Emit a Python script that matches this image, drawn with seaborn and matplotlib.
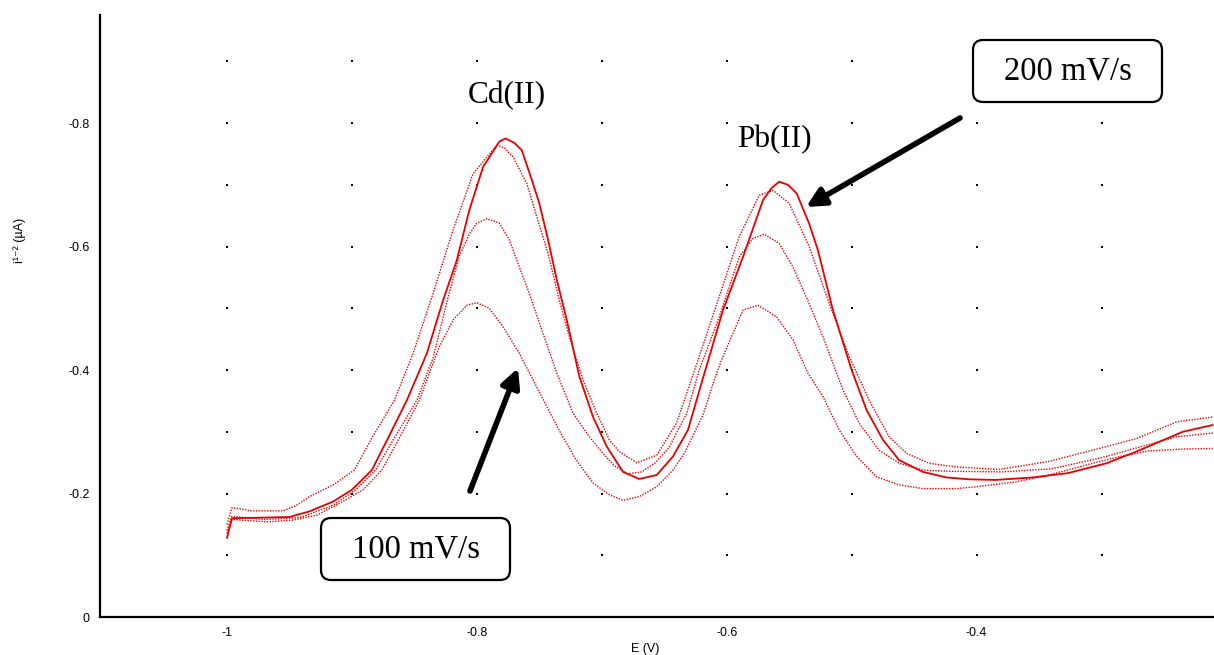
import numpy as np
import pandas as pd
import seaborn as sns
import matplotlib.pyplot as plt
from matplotlib.patches import FancyBboxPatch

# potential (V) / current (uA)
e_200 = [-1.000, -0.996, -0.970, -0.950, -0.934, -0.915, -0.900, -0.884, -0.871, -0.856,
         -0.840, -0.827, -0.816, -0.806, -0.795, -0.788, -0.782, -0.777, -0.770, -0.764,
         -0.756, -0.750, -0.743, -0.736, -0.728, -0.718, -0.707, -0.696, -0.683, -0.670,
         -0.656, -0.643, -0.631, -0.620, -0.603, -0.587, -0.571, -0.564, -0.558, -0.551,
         -0.544, -0.534, -0.527, -0.515, -0.500, -0.488, -0.475, -0.462, -0.443, -0.424,
         -0.406, -0.385, -0.355, -0.327, -0.296, -0.272, -0.235, -0.211]
i_200 = [-0.128, -0.160, -0.161, -0.162, -0.171, -0.187, -0.206, -0.238, -0.290, -0.351,
         -0.427, -0.513, -0.578, -0.659, -0.729, -0.751, -0.770, -0.775, -0.768, -0.756,
         -0.708, -0.670, -0.611, -0.546, -0.481, -0.390, -0.324, -0.276, -0.235, -0.2235,
         -0.230, -0.260, -0.303, -0.380, -0.497, -0.583, -0.675, -0.695, -0.705, -0.700,
         -0.686, -0.637, -0.594, -0.497, -0.400, -0.335, -0.287, -0.254, -0.235, -0.226,
         -0.223, -0.222, -0.226, -0.233, -0.249, -0.268, -0.300, -0.311]

e_s2 = [-1.000, -0.996, -0.980, -0.955, -0.945, -0.934, -0.915, -0.898, -0.884, -0.866,
        -0.851, -0.835, -0.819, -0.803, -0.792, -0.784, -0.778, -0.771, -0.760, -0.752,
        -0.743, -0.734, -0.726, -0.715, -0.704, -0.694, -0.686, -0.672, -0.656, -0.640,
        -0.622, -0.606, -0.590, -0.574, -0.563, -0.550, -0.534, -0.518, -0.502, -0.486,
        -0.470, -0.456, -0.438, -0.416, -0.382, -0.342, -0.302, -0.272, -0.240, -0.211]
i_s2 = [-0.150, -0.177, -0.172, -0.172, -0.180, -0.195, -0.214, -0.238, -0.290, -0.351,
        -0.427, -0.524, -0.627, -0.718, -0.745, -0.764, -0.760, -0.745, -0.702, -0.648,
        -0.589, -0.513, -0.454, -0.384, -0.330, -0.287, -0.268, -0.250, -0.262, -0.315,
        -0.422, -0.519, -0.616, -0.683, -0.691, -0.670, -0.600, -0.508, -0.422, -0.351,
        -0.292, -0.265, -0.249, -0.243, -0.239, -0.252, -0.273, -0.289, -0.316, -0.324]

e_s3 = [-1.000, -0.996, -0.970, -0.950, -0.940, -0.915, -0.897, -0.881, -0.866, -0.848,
        -0.835, -0.824, -0.814, -0.806, -0.800, -0.792, -0.782, -0.774, -0.766, -0.758,
        -0.747, -0.736, -0.723, -0.710, -0.699, -0.690, -0.679, -0.668, -0.657, -0.646,
        -0.632, -0.622, -0.606, -0.590, -0.579, -0.570, -0.558, -0.547, -0.535, -0.523,
        -0.507, -0.494, -0.478, -0.462, -0.443, -0.422, -0.380, -0.340, -0.300, -0.270,
        -0.240, -0.211]
i_s3 = [-0.140, -0.163, -0.158, -0.160, -0.162, -0.181, -0.206, -0.238, -0.290, -0.351,
        -0.420, -0.510, -0.585, -0.620, -0.638, -0.645, -0.638, -0.611, -0.567, -0.524,
        -0.459, -0.395, -0.330, -0.292, -0.265, -0.245, -0.232, -0.235, -0.250, -0.275,
        -0.330, -0.400, -0.486, -0.583, -0.613, -0.620, -0.605, -0.567, -0.512, -0.454,
        -0.368, -0.314, -0.270, -0.249, -0.238, -0.236, -0.235, -0.240, -0.258, -0.275,
        -0.292, -0.298]

e_100 = [-1.000, -0.996, -0.975, -0.967, -0.947, -0.928, -0.910, -0.891, -0.876, -0.862,
         -0.846, -0.838, -0.830, -0.819, -0.808, -0.800, -0.790, -0.779, -0.766, -0.755,
         -0.744, -0.734, -0.721, -0.707, -0.694, -0.683, -0.670, -0.656, -0.643, -0.634,
         -0.619, -0.610, -0.603, -0.587, -0.575, -0.560, -0.547, -0.535, -0.523, -0.510,
         -0.496, -0.480, -0.462, -0.443, -0.416, -0.400, -0.368, -0.342, -0.307, -0.283,
         -0.262, -0.235, -0.211]
i_100 = [-0.135, -0.158, -0.155, -0.154, -0.157, -0.165, -0.184, -0.206, -0.238, -0.290,
         -0.351, -0.395, -0.438, -0.481, -0.505, -0.509, -0.500, -0.470, -0.427, -0.384,
         -0.341, -0.302, -0.256, -0.217, -0.198, -0.189, -0.195, -0.211, -0.238, -0.265,
         -0.327, -0.384, -0.422, -0.497, -0.505, -0.486, -0.449, -0.395, -0.357, -0.303,
         -0.260, -0.227, -0.214, -0.208, -0.208, -0.211, -0.219, -0.230, -0.249, -0.261,
         -0.269, -0.272, -0.273]

x_major = [-1.0, -0.8, -0.6, -0.4]
x_minor = [-1.1, -0.9, -0.7, -0.5, -0.3]
y_major = [0.0, -0.2, -0.4, -0.6, -0.8]
y_minor = [-0.1, -0.3, -0.5, -0.7, -0.9]
x_labels = ["-1", "-0.8", "-0.6", "-0.4"]
y_labels = ["0", "-0.2", "-0.4", "-0.6", "-0.8"]

sns.set_style("white")
plt.rcParams['font.family'] = ['Liberation Sans', 'DejaVu Sans']
plt.rcParams['text.color'] = 'black'
plt.rcParams['axes.labelcolor'] = 'black'

red = "#e60000"
fig = plt.figure(figsize=(12.14, 6.55), dpi=100)
ax = fig.add_axes([100 / 1214, 38 / 655, 1114 / 1214, 602 / 655])

# dotted grid at the tick intersections
gx, gy = np.meshgrid([v for v in sorted(x_major + x_minor) if v > -1.05],
                     [v for v in sorted(y_major + y_minor) if v < -0.05])
ax.scatter(gx.ravel(), gy.ravel(), s=3, marker='s', color='black', linewidths=0, zorder=1)

traces = [(e_s2, i_s2, (0, (1, 1))), (e_s3, i_s3, (0, (1, 1))),
          (e_100, i_100, (0, (1, 1))), (e_200, i_200, '-')]
for e, i, ls in traces:
    df = pd.DataFrame({'E': e, 'I': i})
    lw = 1.3 if ls == '-' else 1.0
    sns.lineplot(data=df, x='E', y='I', ax=ax, sort=False, estimator=None,
                 color=red, linewidth=lw, linestyle=ls, zorder=2)

ax.set_xlim(-1.1016, -0.21)
ax.set_ylim(0, -0.975)

ax.set_xticks(x_major)
ax.set_xticklabels(x_labels)
ax.set_xticks(x_minor, minor=True)
ax.set_yticks(y_major)
ax.set_yticklabels(y_labels)
ax.set_yticks(y_minor, minor=True)
ax.tick_params(which='both', direction='inout', length=5, width=1.2, colors='black',
               labelcolor='black', labelsize=9, pad=5)

for side in ['top', 'right']:
    ax.spines[side].set_visible(False)
for side in ['left', 'bottom']:
    ax.spines[side].set_linewidth(1.6)
    ax.spines[side].set_color('black')

ax.set_xlabel("E (V)", fontsize=9)
ax.xaxis.set_label_coords(0.489, -0.043)
ax.set_ylabel("i¹⁻² (µA)", fontsize=9)
ax.yaxis.set_label_coords(-0.066, 0.626)

serif = ['Liberation Serif', 'DejaVu Serif']
ax.text(-0.776, -0.845, "Cd(II)", fontsize=22.5, family=serif, ha='center', va='center')
ax.text(-0.5616, -0.7725, "Pb(II)", fontsize=22.5, family=serif, ha='center', va='center')

# rate callouts
for x0, y0, label in [(9.73, 5.53, "200 mV/s"), (3.21, 0.75, "100 mV/s")]:
    box = FancyBboxPatch((x0, y0), 1.89, 0.62, boxstyle="round,pad=0,rounding_size=0.1",
                         transform=fig.dpi_scale_trans, facecolor='white',
                         edgecolor='black', linewidth=1.6, zorder=5)
    fig.patches.append(box)
    fig.text(x0 + 0.945, y0 + 0.31, label, transform=fig.dpi_scale_trans, fontsize=23.5,
             family=serif, ha='center', va='center', zorder=6)

arrow = dict(arrowstyle='-|>', color='black', lw=4, mutation_scale=28, shrinkA=0, shrinkB=0)
ax.annotate("", xy=(806, 655 - 207), xytext=(960, 655 - 118),
            xycoords='figure pixels', textcoords='figure pixels', arrowprops=arrow)
ax.annotate("", xy=(518, 655 - 368), xytext=(470, 655 - 491),
            xycoords='figure pixels', textcoords='figure pixels', arrowprops=arrow)

fig.savefig("out.png", dpi=100)
